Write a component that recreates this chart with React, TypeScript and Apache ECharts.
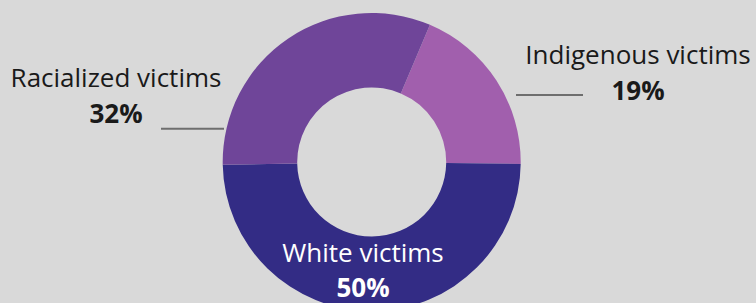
import React, { useEffect, useRef } from "react";
import * as echarts from "echarts";

const categories = ["Indigenous victims", "White victims", "Racialized victims"];
const shares = [19, 50, 32];
const colors = ["#a15fad", "#332c85", "#6f4599"];

export default function App() {
  const ref = useRef<HTMLDivElement>(null);
  useEffect(() => {
    document.body.style.margin = "0";
    const chart = echarts.init(ref.current!, null, { renderer: "svg" });
    const labelPos: Record<number, any> = {
      0: { x: 638, y: 36, line: [[516, 95], [550, 95], [583, 95]] },
      1: { x: 363, y: 234 },
      2: { x: 116, y: 58.5, line: [[224, 128.7], [192, 128.7], [161, 128.7]] },
    };
    chart.setOption({
      animation: false,
      backgroundColor: "#d9d9d9",
      series: [
        {
          type: "pie",
          center: [371.7, 162],
          radius: [74.5, 149],
          startAngle: 67,
          clockwise: true,
          avoidLabelOverlap: false,
          data: categories.map((c, i) => ({
            name: c,
            value: shares[i],
            itemStyle: { color: colors[i] },
            label:
              i === 1
                ? {
                    color: "#ffffff",
                    rich: {
                      n: { fontFamily: "Open Sans", fontSize: 26, fontWeight: 400, color: "#ffffff", lineHeight: 35, align: "center" },
                      p: { fontFamily: "Open Sans", fontSize: 26, fontWeight: 700, color: "#ffffff", lineHeight: 35, align: "center" },
                    },
                  }
                : undefined,
            labelLine: i === 1 ? { show: false } : undefined,
          })),
          label: {
            show: true,
            position: "outside",
            formatter: (p: any) => `{n|${p.name}}\n{p|${p.value}%}`,
            rich: {
              n: { fontFamily: "Open Sans", fontSize: 26, fontWeight: 400, color: "#1a1a1a", lineHeight: 36, align: "center" },
              p: { fontFamily: "Open Sans", fontSize: 26, fontWeight: 700, color: "#1a1a1a", lineHeight: 36, align: "center" },
            },
          },
          labelLine: {
            show: true,
            lineStyle: { color: "#6e6e6e", width: 2 },
          },
          labelLayout: (params: any) => {
            const lp = labelPos[params.dataIndex];
            const out: any = { x: lp.x, y: lp.y, align: "center", verticalAlign: "top" };
            if (lp.line) out.labelLinePoints = lp.line;
            return out;
          },
        },
      ],
    });
    return () => chart.dispose();
  }, []);
  return <div ref={ref} style={{ width: 756, height: 303 }} />;
}
